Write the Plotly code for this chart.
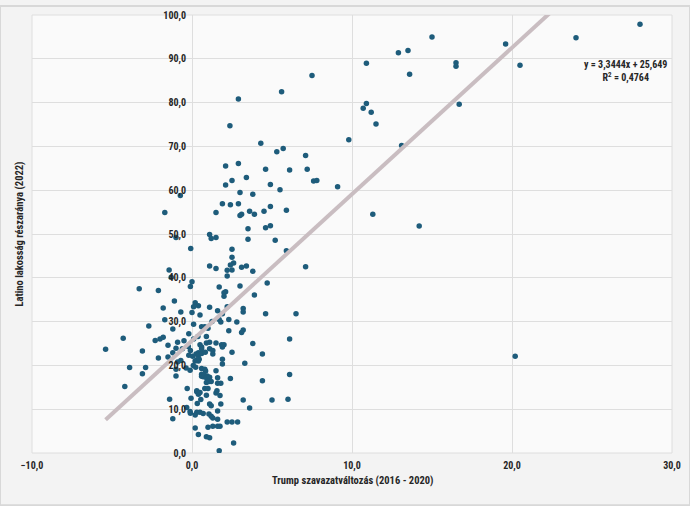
import plotly.graph_objects as go

# Trump vote change (2016-2020), percentage points
trump_change = [
    28.0, 24.0, 19.6, 20.5, 15.0, 12.9, 13.5, 10.9, 16.5, 16.5, 13.6, 7.5, 5.6, 10.7, 10.9, 11.2, 11.5, 16.7,
    9.8, 13.1, 5.3, 5.7, 7.1, 7.2, 6.1, 4.9, 5.5, 7.6, 7.8, 9.1, 4.9, 5.9, 4.9, 5.2, 5.9, 11.3, 14.2, 7.1,
    6.5, 6.1, 6.1, 6.0, 20.2, 2.9,
    -0.73, -1.7, -1.0, -0.08, -1.43, -1.3, -3.3, -2.1, 0.0, -0.1,
    2.37, 4.3, 2.1, 2.9, 4.6, 3.4, 2.1, 2.5, 3.0, 3.8, 1.9, 2.4, 2.9, 1.5, 3.0, 3.1, 3.6, 3.9, 4.5,
    3.5, 4.6, 1.1, 1.2, 1.5, 3.5, 2.5, 2.5, 2.6, 2.4, 1.1, 1.5, 2.2, 2.5, 3.1, 3.4, 3.8, 2.2, 1.7, 3.0,
    4.7, 2.1,
    -1.1, -1.8, -0.7, -1.7, -2.7, -4.3, -5.4, -3.1, -2.3, -2.0, -1.8, -1.5, -1.2, -0.9, -1.0, -1.5, -2.1,
    -1.2, -3.9, -2.9, -3.1, -4.2, -1.4, -1.2, -1.0, -0.7, -0.6, 0.0, 0.1, 0.1, -1.0, -0.9,
    2.0, 2.0, 3.9, 0.2, 0.4, 0.1, 1.1, 1.6, 2.2, 3.2, 3.2, 4.6, 1.9, 0.5, 1.25, 1.7, 2.3, 2.8, 1.8, 0.6,
    0.8, 1.0, 2.3, 3.2, 3.1, 3.8, 4.4, 3.3, 0.5, 0.6, 0.9, 1.1, 1.5, 1.85, 2.0, 1.9, 1.1, 1.3, 1.3, 2.5,
    0.4, 0.6, 0.4, 0.2, 1.9, 1.9, 0.6, 0.8, 0.85, 1.5, 0.6, 0.7, 0.95, 1.6, 2.4, 4.4, 0.9, 1.6, 1.8, 0.8,
    1.0, 0.3, 0.4, 0.9, 1.5, 0.55, 1.1, 1.2, 1.8, 3.2, 3.6, 5.0, 1.6, 0.3, 0.5, 0.7, 1.06, 1.2, 1.3, 1.6,
    2.2, 2.5, 2.85, 1.3, 1.6, 1.75, 1.0, 0.2, 0.4, 0.9, 1.1, 2.6, 1.7,
    -0.23, -0.1, -0.2, 0.04, 0.25, 0.4, 0.3, 0.45, 0.6, 0.6, 0.83, -0.37, -0.12, 0.08, 0.23, 0.6, 0.75,
    0.9, 1.1, 1.06, 1.2, 1.56, 1.75, -0.3, 0.3, 0.5, -0.06, 0.33, -0.33, -0.12, -0.5, -0.2, 0.37, 0.9,
    -0.1, 0.2,
]

# Latino population share (2022), percent
latino_share = [
    97.9, 94.8, 93.4, 88.5, 95.0, 91.4, 91.9, 89.0, 89.1, 88.3, 86.5, 86.2, 82.5, 78.7, 79.8, 77.8, 75.1, 79.6,
    71.5, 70.2, 68.8, 69.5, 67.9, 64.8, 64.6, 61.3, 60.1, 62.1, 62.2, 60.8, 56.3, 55.4, 51.9, 48.6, 46.2, 54.5, 51.8, 42.5,
    31.8, 26.0, 17.9, 12.3, 22.1, 80.8,
    58.8, 54.9, 49.2, 46.7, 41.8, 40.1, 37.5, 37.1, 39.1, 38.0,
    74.7, 70.7, 65.5, 66.1, 64.8, 62.9, 61.2, 62.2, 59.5, 59.1, 56.9, 56.7, 56.9, 54.9, 54.2, 54.5, 55.2, 54.5, 55.2,
    51.2, 51.4, 49.9, 49.0, 49.2, 48.8, 46.5, 44.7, 43.4, 42.9, 42.7, 42.1, 41.7, 41.8, 42.4, 42.7, 41.5, 40.4, 37.9, 38.1,
    38.8, 36.8,
    34.7, 33.1, 32.2, 30.4, 29.0, 26.2, 23.7, 23.3, 25.7, 26.0, 26.4, 24.6, 28.3, 25.3, 23.9, 21.9, 21.7,
    22.9, 19.5, 19.5, 18.1, 15.2, 12.3, 7.8, 19.1, 21.1, 23.8, 32.1, 29.4, 26.0, 17.6, 20.8,
    36.6, 35.8, 36.1, 34.3, 33.6, 33.4, 33.3, 32.5, 33.4, 33.0, 32.2, 31.8, 31.8, 31.5, 30.0, 30.5, 30.5, 29.9, 29.9, 28.8,
    28.8, 28.5, 27.9, 28.1, 27.5, 25.0, 22.6, 20.5, 24.7, 24.2, 25.1, 25.3, 25.1, 24.7, 24.7, 24.2, 23.8, 23.4, 22.6, 23.0,
    22.9, 22.9, 21.0, 21.0, 21.4, 20.3, 19.3, 19.1, 18.7, 18.8, 17.5, 17.4, 17.6, 17.2, 17.0, 16.5, 16.1, 15.9, 15.9, 14.7,
    14.7, 14.0, 13.4, 13.2, 13.7, 12.2, 11.2, 10.8, 11.2, 12.1, 10.3, 12.1, 9.6, 9.3, 9.3, 9.0, 8.9, 8.4, 8.0, 7.7,
    7.1, 7.1, 7.1, 6.1, 6.1, 6.1, 5.9, 5.7, 4.2, 3.7, 3.5, 2.3, 0.5,
    24.3, 23.4, 22.3, 22.1, 22.6, 22.3, 21.3, 21.4, 22.7, 23.8, 23.0, 19.4, 18.9, 20.0, 19.6, 18.0, 17.8,
    17.2, 17.3, 16.3, 16.3, 14.2, 13.1, 14.7, 14.2, 13.8, 12.5, 11.3, 10.4, 9.5, 25.6, 27.2, 26.6, 26.6,
    9.1, 8.7,
]

# Linear trendline as reported on the chart
trend_slope = 3.3444
trend_intercept = 25.649
trend_text = "y = 3,3444x + 25,649<br>R<sup>2</sup> = 0,4764"

x_ticks = [-10, 0, 10, 20, 30]
y_ticks = [0, 10, 20, 30, 40, 50, 60, 70, 80, 90, 100]

FONT = "Liberation Sans Narrow, Roboto Condensed, Arial Narrow, Roboto, sans-serif"
GRID = "#dedede"

fig = go.Figure()
fig.add_trace(go.Scatter(
    x=trump_change, y=latino_share, mode="markers",
    marker=dict(size=5.5, color="#1e5c7b"),
    hoverinfo="x+y", showlegend=False,
))
tx = [min(trump_change), max(trump_change)]
fig.add_trace(go.Scatter(
    x=tx, y=[trend_slope * v + trend_intercept for v in tx], mode="lines",
    line=dict(color="#c9bdc1", width=4), hoverinfo="skip", showlegend=False,
))

fig.update_layout(
    width=690, height=506,
    margin=dict(l=32, r=18, t=9, b=53),
    paper_bgcolor="#f3f3f3", plot_bgcolor="#fafafa",
    separators=", ",
    font=dict(family=FONT, size=10, color="#262626"),
    xaxis=dict(range=[-10, 30], tickvals=x_ticks, tickformat=".1f",
               showgrid=True, gridcolor=GRID, gridwidth=1, zeroline=False,
               showline=False, ticks="", ticklabelstandoff=5,
               tickfont=dict(family=FONT, size=10, color="#262626", weight="bold")),
    yaxis=dict(range=[0, 100], tickvals=y_ticks, tickformat=".1f",
               showgrid=True, gridcolor=GRID, gridwidth=1, zeroline=False,
               showline=False, ticks="", anchor="free", position=0.25,
               ticklabelstandoff=6,
               tickfont=dict(family=FONT, size=10, color="#262626", weight="bold")),
    shapes=[
        dict(type="rect", xref="paper", yref="paper", x0=0, x1=1, y0=0, y1=1,
             line=dict(color=GRID, width=1), layer="below"),
        dict(type="rect", xref="paper", yref="paper", x0=-32/640, x1=1 + 18/640,
             y0=-53/444, y1=1 + 9/444, line=dict(color="#d8d8d8", width=2), layer="below"),
    ],
    annotations=[
        dict(text=trend_text, x=27.1, y=87.0, xref="x", yref="y", showarrow=False,
             align="center", font=dict(family=FONT, size=10, color="#262626", weight="bold")),
        dict(text="Latino lakosság részaránya (2022)", x=-22/640, y=0.5, xref="paper", yref="paper",
             textangle=-90, showarrow=False,
             font=dict(family=FONT, size=10.5, color="#262626", weight="bold")),
        dict(text="Trump szavazatváltozás (2016 - 2020)", x=0.5, y=-28/444, xref="paper", yref="paper",
             showarrow=False, yanchor="middle",
             font=dict(family=FONT, size=10.5, color="#262626", weight="bold")),
    ],
)

fig.write_html("out.html")
